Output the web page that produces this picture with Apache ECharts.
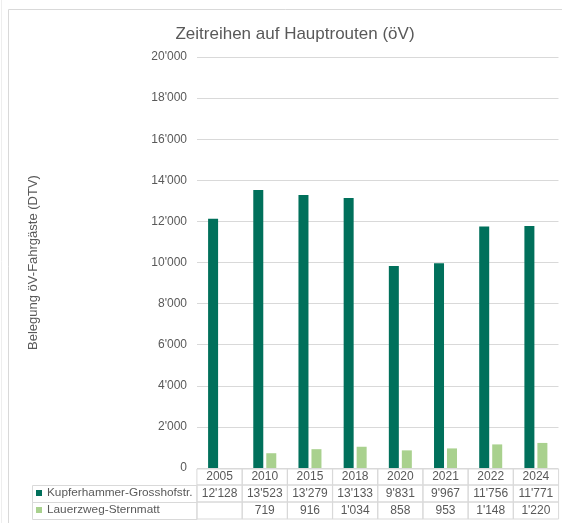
<!DOCTYPE html>
<html>
<head>
<meta charset="utf-8">
<script src="https://cdn.jsdelivr.net/npm/echarts@6/dist/echarts.min.js"></script>
<style>
  html, body { margin: 0; padding: 0; background: #fff; }
  #chart { width: 562px; height: 523px; }
</style>
</head>
<body>
<div id="chart"></div>
<script>
// Daten aus der Tabelle unter dem Diagramm
var jahre = ["2005", "2010", "2015", "2018", "2020", "2021", "2022", "2024"];
var kupferhammer = [12128, 13523, 13279, 13133, 9831, 9967, 11756, 11771];
var lauerzweg = [null, 719, 916, 1034, 858, 953, 1148, 1220];
var yTicks = [0, 2000, 4000, 6000, 8000, 10000, 12000, 14000, 16000, 18000, 20000];
var serienNamen = ["Kupferhammer-Grosshofstr.", "Lauerzweg-Sternmatt"];

var dunkelgruen = "#00705b";
var hellgruen = "#a9d18e";
var grau = "#595959";
var linie = "#d9d9d9";
var schrift = "'Liberation Sans', Arial, sans-serif";

// 12128 -> 12'128
function fmt (v) {
  if (v == null) return " ";
  return String(v).replace(/\B(?=(\d{3})+(?!\d))/g, "'");
}

var cell = {
  width: 45.4,
  align: "center",
  color: grau,
  fontSize: 12,
  fontFamily: schrift,
  borderColor: linie,
  borderWidth: 1
};

function legende (name, top) {
  return {
    left: 36,
    top: top,
    padding: 0,
    itemWidth: 6,
    itemHeight: 6,
    itemGap: 4,
    icon: "rect",
    selectedMode: false,
    textStyle: {
      color: grau,
      fontSize: 11.8,
      fontFamily: schrift
    },
    data: [name]
  };
}

var myChart = echarts.init(document.getElementById("chart"));
myChart.setOption({
  animation: false,
  color: [dunkelgruen, hellgruen],
  title: {
    text: "Zeitreihen auf Hauptrouten (öV)",
    left: 290,
    top: 21,
    textAlign: "center",
    textStyle: {
      fontSize: 17,
      fontWeight: "normal",
      color: grau,
      fontFamily: schrift
    }
  },
  legend: [
    legende(serienNamen[0], 487),
    legende(serienNamen[1], 504)
  ],
  grid: {
    left: 197,
    right: 2,
    top: 57,
    bottom: 55,
    containLabel: false
  },
  xAxis: {
    type: "category",
    data: jahre,
    axisLine: { show: false },
    axisTick: { show: false },
    axisLabel: {
      interval: 0,
      margin: 1,
      formatter: function (value, idx) {
        return "{y|" + value + "}\n{a|" + fmt(kupferhammer[idx]) + "}\n{b|" + fmt(lauerzweg[idx]) + "}";
      },
      rich: {
        y: Object.assign({}, cell, { height: 16 }),
        a: Object.assign({}, cell, { height: 17 }),
        b: Object.assign({}, cell, { height: 17 })
      }
    }
  },
  yAxis: {
    type: "value",
    min: yTicks[0],
    max: yTicks[yTicks.length - 1],
    interval: yTicks[1] - yTicks[0],
    name: "Belegung öV-Fahrgäste (DTV)",
    nameLocation: "middle",
    nameGap: 157,
    nameTextStyle: {
      color: grau,
      fontSize: 13,
      fontFamily: schrift
    },
    axisLine: { show: false },
    axisTick: { show: false },
    axisLabel: {
      margin: 10,
      color: grau,
      fontSize: 12,
      fontFamily: schrift,
      formatter: function (v) { return fmt(v); }
    },
    splitLine: {
      lineStyle: { color: linie, width: 1 }
    }
  },
  graphic: [
    // Rahmen des Diagramms
    { type: "rect", shape: { x: 8.5, y: 9.5, width: 700, height: 700 }, style: { fill: "none", stroke: linie, lineWidth: 1 }, silent: true },
    { type: "line", shape: { x1: 1.5, y1: 0, x2: 1.5, y2: 523 }, style: { stroke: "#eeeeee", lineWidth: 1 }, silent: true },
    // Legendenspalte der Datentabelle
    { type: "rect", shape: { x: 32.5, y: 485.5, width: 164.5, height: 17 }, style: { fill: "none", stroke: linie, lineWidth: 1 }, silent: true, z: -1 },
    { type: "rect", shape: { x: 32.5, y: 502.5, width: 164.5, height: 17 }, style: { fill: "none", stroke: linie, lineWidth: 1 }, silent: true, z: -1 }
  ],
  series: [
    {
      name: serienNamen[0],
      type: "bar",
      barWidth: 10,
      barGap: "30%",
      data: kupferhammer
    },
    {
      name: serienNamen[1],
      type: "bar",
      barWidth: 10,
      data: lauerzweg
    }
  ]
});
</script>
</body>
</html>
